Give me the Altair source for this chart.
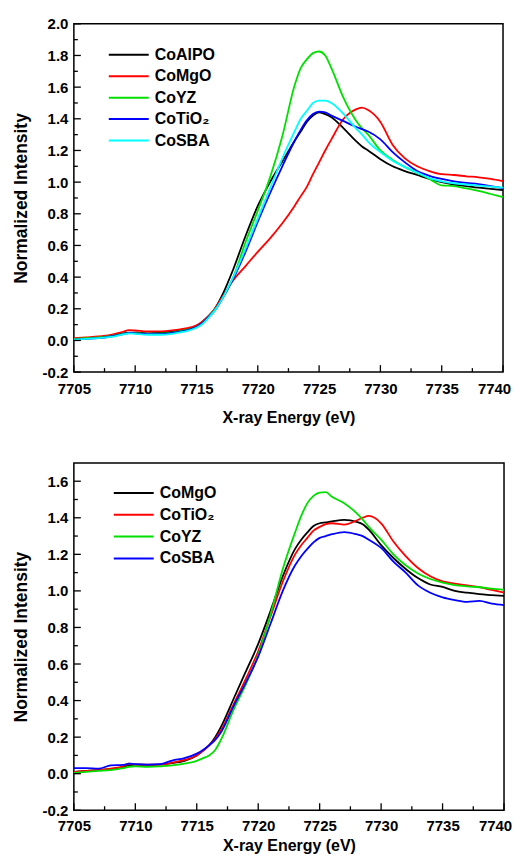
import altair as alt
import pandas as pd

# ---------------- data ----------------
ENERGY = [7705, 7706, 7707, 7708, 7709, 7709.5, 7710, 7711, 7712, 7713, 7714, 7715, 7715.5,
          7716, 7716.5, 7717, 7718, 7719, 7720, 7721, 7722, 7723, 7723.5, 7724, 7724.5,
          7725, 7725.5, 7726, 7727, 7728, 7728.5, 7729, 7730, 7731, 7732, 7733, 7734, 7735,
          7736, 7737, 7738, 7739, 7740]

# top panel
TOP_NAMES = ["CoAlPO", "CoMgO", "CoYZ", "CoTiO\u2082", "CoSBA"]
TOP_COLORS = ["#000000", "#ff0000", "#00e000", "#0000ff", "#00ffff"]
top_coalpo = [0.01, 0.015, 0.02, 0.03, 0.045, 0.05, 0.05, 0.045, 0.048, 0.055, 0.068, 0.09, 0.12,
              0.155, 0.20, 0.27, 0.45, 0.66, 0.85, 1.00, 1.13, 1.26, 1.32, 1.38, 1.42,
              1.44, 1.43, 1.41, 1.34, 1.26, 1.225, 1.20, 1.145, 1.10, 1.07, 1.045, 1.02, 1.00,
              0.985, 0.975, 0.965, 0.958, 0.95]
top_comgo = [0.015, 0.02, 0.025, 0.035, 0.055, 0.065, 0.063, 0.057, 0.057, 0.063, 0.075, 0.095, 0.12,
             0.155, 0.20, 0.26, 0.38, 0.47, 0.56, 0.645, 0.74, 0.85, 0.91, 0.97, 1.05,
             1.125, 1.20, 1.27, 1.40, 1.46, 1.47, 1.455, 1.38, 1.235, 1.15, 1.10, 1.07, 1.05,
             1.045, 1.037, 1.03, 1.02, 1.006]
top_coyz = [0.01, 0.015, 0.02, 0.028, 0.042, 0.048, 0.047, 0.042, 0.043, 0.05, 0.063, 0.085, 0.11,
            0.15, 0.195, 0.25, 0.40, 0.62, 0.82, 1.03, 1.29, 1.61, 1.72, 1.775, 1.815,
            1.825, 1.80, 1.72, 1.53, 1.39, 1.34, 1.30, 1.20, 1.14, 1.095, 1.06, 1.02, 0.98,
            0.975, 0.96, 0.945, 0.925, 0.905]
top_cotio2 = [0.005, 0.01, 0.015, 0.025, 0.04, 0.047, 0.045, 0.04, 0.04, 0.047, 0.06, 0.085, 0.11,
              0.15, 0.19, 0.25, 0.39, 0.56, 0.75, 0.93, 1.10, 1.26, 1.33, 1.39, 1.43,
              1.445, 1.44, 1.42, 1.385, 1.35, 1.335, 1.32, 1.27, 1.19, 1.125, 1.07, 1.04, 1.02,
              1.005, 0.995, 0.988, 0.975, 0.962]
top_cosba = [0.005, 0.01, 0.015, 0.022, 0.038, 0.045, 0.042, 0.036, 0.036, 0.042, 0.055, 0.08, 0.105,
             0.145, 0.19, 0.25, 0.40, 0.58, 0.77, 0.96, 1.15, 1.32, 1.40, 1.45, 1.50,
             1.515, 1.515, 1.50, 1.43, 1.34, 1.30, 1.255, 1.19, 1.135, 1.095, 1.06, 1.025, 1.005,
             0.993, 0.985, 0.978, 0.972, 0.965]

# bottom panel
BOT_NAMES = ["CoMgO", "CoTiO\u2082", "CoYZ", "CoSBA"]
BOT_COLORS = ["#000000", "#ff0000", "#00e000", "#0000ff"]
bot_comgo = [0.01, 0.015, 0.02, 0.025, 0.035, 0.045, 0.05, 0.048, 0.05, 0.058, 0.07, 0.10, 0.125,
             0.155, 0.20, 0.26, 0.41, 0.56, 0.71, 0.89, 1.08, 1.23, 1.28, 1.32, 1.355,
             1.37, 1.375, 1.38, 1.388, 1.378, 1.365, 1.335, 1.25, 1.18, 1.12, 1.07, 1.035, 1.022,
             1.00, 0.99, 0.982, 0.977, 0.972]
bot_cotio2 = [0.01, 0.015, 0.02, 0.028, 0.04, 0.055, 0.05, 0.05, 0.05, 0.06, 0.075, 0.10, 0.125,
              0.155, 0.19, 0.24, 0.38, 0.52, 0.67, 0.86, 1.05, 1.20, 1.25, 1.29, 1.33,
              1.35, 1.365, 1.37, 1.363, 1.385, 1.40, 1.41, 1.37, 1.27, 1.19, 1.125, 1.08, 1.052,
              1.04, 1.03, 1.02, 1.005, 0.99]
bot_coyz = [0.005, 0.01, 0.015, 0.02, 0.03, 0.038, 0.04, 0.038, 0.04, 0.045, 0.055, 0.07, 0.085,
            0.10, 0.13, 0.19, 0.35, 0.49, 0.65, 0.87, 1.12, 1.32, 1.41, 1.48, 1.52,
            1.538, 1.54, 1.515, 1.48, 1.425, 1.39, 1.35, 1.28, 1.20, 1.14, 1.095, 1.065, 1.045,
            1.032, 1.025, 1.02, 1.012, 1.006]
bot_cosba = [0.03, 0.03, 0.028, 0.045, 0.048, 0.055, 0.052, 0.05, 0.052, 0.072, 0.085, 0.11, 0.13,
             0.155, 0.185, 0.23, 0.37, 0.50, 0.64, 0.82, 1.00, 1.14, 1.19, 1.23, 1.265,
             1.29, 1.30, 1.31, 1.322, 1.31, 1.30, 1.28, 1.235, 1.16, 1.10, 1.03, 0.99, 0.965,
             0.95, 0.94, 0.945, 0.93, 0.922]

# axis ticks
X_MAJOR = [7705, 7710, 7715, 7720, 7725, 7730, 7735, 7740]
X_MINOR = [7707.5, 7712.5, 7717.5, 7722.5, 7727.5, 7732.5, 7737.5]
TOP_Y_MAJOR = [-0.2, 0.0, 0.2, 0.4, 0.6, 0.8, 1.0, 1.2, 1.4, 1.6, 1.8, 2.0]
TOP_Y_MINOR = [-0.1, 0.1, 0.3, 0.5, 0.7, 0.9, 1.1, 1.3, 1.5, 1.7, 1.9]
BOT_Y_MAJOR = [-0.2, 0.0, 0.2, 0.4, 0.6, 0.8, 1.0, 1.2, 1.4, 1.6]
BOT_Y_MINOR = [-0.1, 0.1, 0.3, 0.5, 0.7, 0.9, 1.1, 1.3, 1.5]

FONT = "Liberation Sans"
X_TITLE = "X-ray Energy (eV)"
Y_TITLE = "Normalized Intensity"


def long_df(names, series):
    rows = []
    for name, vals in zip(names, series):
        for k, (e, v) in enumerate(zip(ENERGY, vals)):
            rows.append({"E": e, "v": v, "series": name, "idx": k})
    return pd.DataFrame(rows)


def panel(df, names, colors, ydom, ymaj, ymin, lx, ly, rowpad, w, h, xlp, xtp, ylp, ytp):
    xs = alt.Scale(domain=[7705, 7740], nice=False, zero=False)
    ys = alt.Scale(domain=ydom, nice=False, zero=False)
    xax = alt.Axis(values=X_MAJOR, format="d", title=X_TITLE,
                   labelPadding=xlp, titlePadding=xtp,
                   labelOffset={"condition": {"test": "datum.value == 7740", "value": -9},
                                "value": 0})
    yax = alt.Axis(values=ymaj, title=Y_TITLE, labelPadding=ylp, titlePadding=ytp,
                   labelExpr="replace(format(datum.value, '.1f'), '\u2212', '-')")
    lines = alt.Chart(df).mark_line(strokeWidth=1.8, interpolate="monotone").encode(
        x=alt.X("E:Q", scale=xs, axis=xax, title=X_TITLE),
        y=alt.Y("v:Q", scale=ys, axis=yax, title=Y_TITLE),
        color=alt.Color("series:N", sort=names,
                        scale=alt.Scale(domain=names, range=colors),
                        legend=alt.Legend(orient="none", legendX=lx, legendY=ly, title=None,
                                          symbolType="stroke", symbolSize=1600,
                                          symbolStrokeWidth=2, clipHeight=16,
                                          rowPadding=rowpad, labelFontSize=16,
                                          labelFontWeight="bold", labelFont=FONT,
                                          labelColor="black", labelOffset=5,
                                          padding=0, symbolOffset=0)),
        order="idx:Q",
    )
    ymaj_df = pd.DataFrame({"t": ymaj})
    ymin_df = pd.DataFrame({"t": ymin})
    xmaj_df = pd.DataFrame({"t": X_MAJOR})
    xmin_df = pd.DataFrame({"t": X_MINOR})
    tick_style = dict(color="black", strokeWidth=1.3)
    yt1 = alt.Chart(ymaj_df).mark_rule(**tick_style).encode(
        y=alt.Y("t:Q", scale=ys, axis=yax, title=Y_TITLE), x=alt.value(0), x2=alt.value(7))
    yt2 = alt.Chart(ymin_df).mark_rule(**tick_style).encode(
        y=alt.Y("t:Q", scale=ys, axis=yax, title=Y_TITLE), x=alt.value(0), x2=alt.value(4))
    xt1 = alt.Chart(xmaj_df).mark_rule(**tick_style).encode(
        x=alt.X("t:Q", scale=xs, axis=xax, title=X_TITLE), y=alt.value(h), y2=alt.value(h - 7))
    xt2 = alt.Chart(xmin_df).mark_rule(**tick_style).encode(
        x=alt.X("t:Q", scale=xs, axis=xax, title=X_TITLE), y=alt.value(h), y2=alt.value(h - 4))
    return alt.layer(lines, yt1, yt2, xt1, xt2).properties(width=w, height=h)


top = panel(long_df(TOP_NAMES, [top_coalpo, top_comgo, top_coyz, top_cotio2, top_cosba]),
            TOP_NAMES, TOP_COLORS, [-0.2, 2.0], TOP_Y_MAJOR, TOP_Y_MINOR,
            34, 23, 5.5, 430, 349, 9, 13, 6, 12)
bottom = panel(long_df(BOT_NAMES, [bot_comgo, bot_cotio2, bot_coyz, bot_cosba]),
               BOT_NAMES, BOT_COLORS, [-0.2, 1.7], BOT_Y_MAJOR, BOT_Y_MINOR,
               39, 22, 5.9, 431, 348, 8, 4, 6, 12)

chart = alt.vconcat(top, bottom, spacing=36).resolve_scale(
    color="independent"
).properties(
    padding={"left": 3, "top": 7, "right": 0, "bottom": 0}
).configure(font=FONT).configure_view(stroke="black", strokeWidth=1.5).configure_axis(
    grid=False, domain=False, ticks=False, tickSize=0,
    labelFont=FONT, labelFontSize=15, labelFontWeight="bold", labelColor="black",
    titleFont=FONT, titleFontWeight="bold", titleColor="black",
).configure_axisX(titleFontSize=16, labelFlush=False
).configure_axisY(titleFontSize=17.5)

chart.save("out.html", embed_options={"renderer": "svg", "actions": False})
